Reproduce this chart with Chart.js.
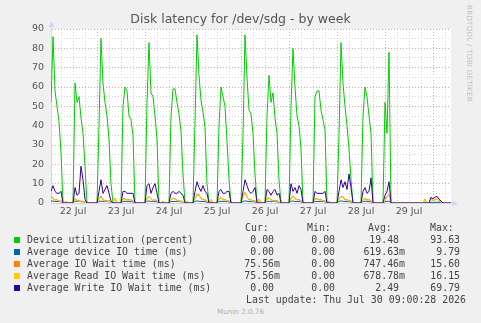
<!DOCTYPE html>
<html><head><meta charset="utf-8">
<script src="https://cdn.jsdelivr.net/npm/chart.js@4.4.1/dist/chart.umd.min.js"></script>
<style>
html,body{margin:0;padding:0;background:#f0f0f0;width:481px;height:323px;overflow:hidden;}
#wrap{position:relative;width:481px;height:323px;}
#c{position:absolute;left:0;top:0;}
.abs{position:absolute;white-space:pre;}
.mono{font-family:"DejaVu Sans Mono",monospace;font-size:9.9px;color:#444;line-height:12px;height:12px;}
.sq{position:absolute;width:6px;height:6px;}
#title{left:0;width:481px;top:11px;text-align:center;font-family:"DejaVu Sans",sans-serif;font-size:12.5px;color:#555;line-height:16px;}
#rrd{left:465px;top:5px;writing-mode:vertical-rl;font-family:"DejaVu Sans",sans-serif;font-size:7.2px;color:#c0c0c0;letter-spacing:0.2px;}
#munin{left:0;width:481px;top:307px;text-align:center;font-family:"DejaVu Sans",sans-serif;font-size:7.2px;color:#b0b0b0;line-height:10px;}
</style></head>
<body><div id="wrap"><canvas id="c" width="481" height="225"></canvas></div>
<script>
// ---- data: hourly samples, index = hours since 22 Jul 00:00 ----
const dayLabels = ['22 Jul','23 Jul','24 Jul','25 Jul','26 Jul','27 Jul','28 Jul','29 Jul'];
const seriesNames = ['Device utilization (percent)','Average device IO time (ms)','Average IO Wait time (ms)','Average Read IO Wait time (ms)','Average Write IO Wait time (ms)'];
const seriesColors = ['#00CC00','#0066B3','#FF8000','#FFCC00','#330099'];
const curVals = ['0.00 ','0.00 ','75.56m','75.56m','0.00 '];
const minVals = ['0.00 ','0.00 ','0.00 ','0.00 ','0.00 '];
const avgVals = ['19.48 ','619.63m','747.46m','678.78m','2.49 '];
const maxVals = ['93.63 ','9.79 ','15.60 ','16.15 ','69.79 '];
const lastUpdate = 'Last update: Thu Jul 30 09:00:28 2026';

const utilization = [
 null,52,86,58,50,42,26,0, 0,0,0,0,0, 62,52,55,44,36,19,0, 0,0,0,0,
 0,40,85,62,52,45,33,10, 0,0,0,0,0, 50,60,58,45,43,35, 0,0,0,0,0,
 0,52,83,57,55,45,33, 0,0,0,0,0,0, 45,59,59,52,46,37,15, 0,0,0,0,
 0,42,87,66,53,47,39,10, 0,0,0,0,0, 40,60,55,50,32,12, 0,0,0,0,0,
 0,35,87,65,48,46,36,15, 0,0,0,0,0, 45,66,52,57,44,36,12, 0,0,0,0,
 0,50,80,60,45,40,28, 0,0,0,0,0,0, 55,58,58,48,43,38, 0,0,0,0,0,
 0,35,83,62,50,40,28,12, 0,0,0,0,0, 45,60,55,45,36, 0,0,0,0,0,0,
 52,36,78, 0,0,0,0,0,0,0,0,0,0,0,0,0,0,0,0,0,0,0,0,0,
 0,0,0,0,0,0,0,0,0,0
];
const deviceIO = [
 null,1,1,0.8,0.8,0.7,0.6, 0, 0,0, 0,0,0, 1,0.8,0.8,0.9,0.8,0.5, 0,0,0,0,0,
 0,0.8,1,0.8,0.7,0.8,0.6,0.4, 0, 0, 0,0,0, 0.8,0.9,0.8,0.7,0.7,0.6, 0,0,0,0,0,
 0,0.9,1,0.8,0.8,0.8,0.6, 0,0, 0, 0,0,0, 0.7,0.8,0.8,0.7,0.7,0.6,0.4, 0, 0, 0,0,
 0,0.8,1.1,0.9,0.8,0.8,0.7,0.5, 0, 0, 0,0,0, 0.8,0.9,0.8,0.7,0.7,0.5, 0,0,0,0,0,
 0,0.8,1.1,0.9,0.8,0.7,0.7,0.5, 0, 0, 0,0,0, 0.8,0.9,0.7,0.8,0.7,0.6,0.4, 0,0,0,0,
 0,0.9,1,0.8,0.7,0.8,0.6, 0,0,0,0,0,0, 0.8,0.8,0.8,0.7,0.7,0.6, 0, 0, 0,0,0,
 0,0.8,1.1,0.9,0.8,0.7,0.7,0.5, 0,0,0,0,0, 0.8,0.9,0.8,0.7,0.6, 0,0,0,0,0,0,
 0.7,0.8,1, 0,0,0,0,0,0,0,0,0,0,0,0,0,0,0,0,0, 0, 0,0, 0.3,
 0.3,0.3,0.4,0.3,0.2, 0,0,0,0, 0
];
const ioWait = [
 null,3.8,2.3,1.6,1.7,1.2,0.9, 0, 0.6,0.5, 0,0,0, 2.4,1.3,1.2,0.8,0.7,0.4, 0,0,0,0,0,
 0,2.3,3.6,1.7,1.3,1.2,1,0.6, 0, 2.6, 0,0,0, 2.3,2.2,1.8,1.7,1.6,1.2, 0,0,0,0,0,
 0,2.4,3.4,2.2,1.3,1.7,1.2, 0,0, 1.1, 0,0,0, 1.7,2.6,2.2,1.4,1.2,1,0.7, 0, 1.1, 0,0,
 0,2.3,4.5,4.3,2.3,1.8,1.7,1.2, 0, 1.8, 0,0,0, 2.3,2.8,1.8,1.7,1.4,1, 0,0,0,0,0,
 0,3.4,5.5,3.3,1.8,1.7,1.2,1.3, 0, 2.1, 0,0,0, 2.4,2.8,1.7,1.3,1.3,1.2,0.7, 0,0,0,0,
 0,2.5,3.8,2.3,1.7,1.8,1.3, 0,0,0,0,0,0, 2.3,2.2,1.7,1.8,1.2,1.3, 0, 1.1, 0,0,0,
 0,2.3,3.4,3.3,1.8,1.7,1.3,1.2, 0,0,0,0,0, 1.7,2.3,1.8,1.7,1.3, 0,0,0,0,0,0,
 1.2,3.3,4.4, 0,0,0,0,0,0,0,0,0,0,0,0,0,0,0,0,0, 2.1, 0,0, 2.2,
 1.2,1.7,2.3,1.2,0.6, 0,0,0,0, 0.076
];
const readWait = [
 null,3.5,2,1.5,1.5,1,0.8, 0, 0.5,0.5, 0,0,0, 2,1,1,0.5,0.5,0.3, 0,0,0,0,0,
 0,2,3,1.5,1,1,0.8,0.5, 0, 2.5, 0,0,0, 2,2,1.5,1.5,1.5,1, 0,0,0,0,0,
 0,2,3,2,1,1.5,1, 0,0, 1, 0,0,0, 1.5,2.3,2,1.2,1,0.8,0.5, 0, 1, 0,0,
 0,2,4,4,2,1.5,1.5,1, 0, 1.7, 0,0,0, 2,2.5,1.5,1.5,1.2,0.8, 0,0,0,0,0,
 0,3,5,3,1.5,1.5,1,1, 0, 2, 0,0,0, 2,2.5,1.5,1,1,1,0.5, 0,0,0,0,
 0,2,3.5,2,1.5,1.5,1, 0,0,0,0,0,0, 2,2,1.5,1.5,1,1, 0, 1, 0,0,0,
 0,2,3,3,1.5,1.5,1,1, 0,0,0,0,0, 1.5,2,1.5,1.5,1, 0,0,0,0,0,0,
 1,3,4, 0,0,0,0,0,0,0,0,0,0,0,0,0,0,0,0,0, 2, 0,0, 2,
 1,1.5,2,1,0.5, 0,0,0,0, 0.076
];
const writeWait = [
 null,6,9,6,5,5,6,0, 0,0,0,0,0, 8,4,5,19,12,2,0, 0,0,0,0,
 0,6,12,5,7,9,5,1, 0,0,0,0,0, 6,6,5,5,5,5, 0,0,0,0,0,
 0,9,10,5,8,10,5, 0,0,0,0,0,0, 5,6,5,5,6,5,4, 0,0,0,0,
 0,6,11,8,6,9,6,5, 0,0,0,0,0, 6,7,5,5,6,6, 0,0,0,0,0,
 0,6,12,9,6,5,6,8, 0,0,0,0,0, 7,6,4,6,7,4,5, 0,0,0,0,
 0,10,6,8,5,9,7, 0,0,0,0,0,0, 6,5,5,5,5,6, 0,0,0,0,0,
 0,6,12,8,11,7,15,8, 0,0,0,0,0, 6,8,5,6,13, 0,0,0,0,0,0,
 4,6,11, 0,0,0,0,0,0,0,0,0,0,0,0,0,0,0,0,0,0,0,0, 3,
 2,3,3.5,2,1, 0,0,0,0,0
];
const xTickHours = [6,12,18,24,30,36,42,48,54,60,66,72,78,84,90,96,102,108,114,120,126,132,138,144,150,156,162,168,174,180,186,192,198];
const yTickValues = [0,5,10,15,20,25,30,35,40,45,50,55,60,65,70,75,80,85,90];

// ---- chart ----
const allSeries = [utilization, deviceIO, ioWait, readWait, writeWait];
const toPts = arr => arr.map((v,i)=>({x:i,y:v}));
const MAJOR = '#eaa0a0', MINOR = '#d4d4d4', AXIS = '#CFD6F8';

const bgPlugin = {
  id:'bg',
  beforeDraw(chart){
    const {ctx, chartArea:a} = chart;
    ctx.save(); ctx.fillStyle = '#ffffff';
    ctx.fillRect(a.left, a.top, a.right-a.left, a.bottom-a.top);
    ctx.restore();
  },
  afterDraw(chart){
    const {ctx, chartArea:a} = chart;
    ctx.save();
    ctx.strokeStyle = AXIS; ctx.fillStyle = AXIS; ctx.lineWidth = 1;
    const lx = Math.round(a.left)+0.5, by = Math.round(a.bottom)+0.5;
    ctx.beginPath(); ctx.moveTo(lx, a.top); ctx.lineTo(lx, a.top-3); ctx.stroke();
    ctx.beginPath(); ctx.moveTo(lx-3, a.top-2); ctx.lineTo(lx+3, a.top-2); ctx.lineTo(lx, a.top-8); ctx.closePath(); ctx.fill();
    ctx.beginPath(); ctx.moveTo(a.right, by); ctx.lineTo(a.right+2, by); ctx.stroke();
    ctx.beginPath(); ctx.moveTo(a.right+1, by-3); ctx.lineTo(a.right+1, by+3); ctx.lineTo(a.right+7, by); ctx.closePath(); ctx.fill();
    ctx.restore();
  }
};

new Chart(document.getElementById('c'), {
  type:'line',
  data:{ datasets: allSeries.map((arr,k)=>({
    label: seriesNames[k], data: toPts(arr),
    borderColor: seriesColors[k], backgroundColor: seriesColors[k],
    borderWidth:1, pointRadius:0, tension:0, fill:false,
    borderJoinStyle:'round', order: 5-k
  }))},
  options:{
    responsive:false, animation:false, devicePixelRatio:1,
    layout:{padding:{left:0,right:30,top:29,bottom:0}},
    plugins:{legend:{display:false}, tooltip:{enabled:false}, title:{display:false}},
    scales:{
      x:{ type:'linear', min:1, max:201,
        afterBuildTicks: s => { s.ticks = xTickHours.map(v=>({value:v})); },
        afterFit: s => { s.height = 22; },
        grid:{ drawTicks:false, lineWidth:1,
          color: c => (c.tick && c.tick.value % 24 === 0) ? MAJOR : MINOR },
        border:{ display:true, color:AXIS, dash:[1,2] },
        ticks:{ autoSkip:false, maxRotation:0, minRotation:0, padding:3,
          font:{family:'DejaVu Sans', size:9.5}, color:'#555',
          callback: v => (v % 24 === 12) ? dayLabels[(v-12)/24] : '' }
      },
      y:{ type:'linear', min:0, max:90,
        afterBuildTicks: s => { s.ticks = yTickValues.map(v=>({value:v})); },
        afterFit: s => { s.width = 51; },
        grid:{ drawTicks:false, lineWidth:1,
          color: c => (c.tick && c.tick.value === 0) ? 'rgba(0,0,0,0)' : (c.tick && c.tick.value % 10 === 0 ? MAJOR : MINOR) },
        border:{ display:true, color:AXIS, dash:[1,2] },
        ticks:{ autoSkip:false, padding:7,
          font:{family:'DejaVu Sans', size:9.5}, color:'#555',
          callback: v => (v % 10 === 0) ? String(v) : '' }
      }
    }
  },
  plugins:[bgPlugin]
});

// ---- text blocks ----
const wrap = document.getElementById('wrap');
function addDiv(cls, text, style){ const d=document.createElement('div'); d.className=cls; d.textContent=text; Object.assign(d.style, style); wrap.appendChild(d); return d; }
addDiv('abs', 'Disk latency for /dev/sdg - by week', {}).id='title';
addDiv('abs', 'RRDTOOL / TOBI OETIKER', {}).id='rrd';
addDiv('abs', 'Munin 2.0.76', {}).id='munin';
const headerY = 228, rowY0 = 240, rowStep = 11.9;
[['Cur:',245],['Min:',307],['Avg:',368],['Max:',430]].forEach(([t,x])=>addDiv('abs mono', t, {left:x+'px', top:(headerY-6)+'px'}));
const cols = [[curVals,280],[minVals,341],[avgVals,405],[maxVals,466]];
seriesNames.forEach((name,k)=>{
  const cy = rowY0 + k*rowStep;
  const sq = document.createElement('div'); sq.className='sq';
  Object.assign(sq.style,{left:'14px', top:(Math.round(cy)-3)+'px', background:seriesColors[k]}); wrap.appendChild(sq);
  addDiv('abs mono', name, {left:'27px', top:(cy-6)+'px'});
  cols.forEach(([vals,right])=>addDiv('abs mono', vals[k], {right:(481-right)+'px', top:(cy-6)+'px', textAlign:'right'}));
});
addDiv('abs mono', lastUpdate, {right:'15px', top:(299.5-6)+'px'});
</script>
</body></html>
